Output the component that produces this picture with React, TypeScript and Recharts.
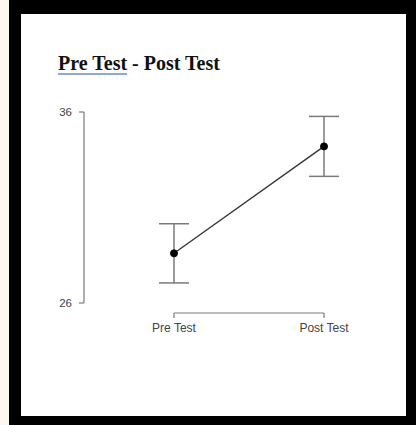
import React from 'react';
import { LineChart, Line, XAxis, YAxis, ErrorBar } from 'recharts';

const categories = ['Pre Test', 'Post Test'];
const means = [28.6, 34.2];
const errors = [1.55, 1.57];
const yTicks = [26, 36];
const title = 'Pre Test - Post Test';

const data = categories.map((c, i) => ({ name: c, mean: means[i], err: errors[i] }));

const AXIS = '#7a7a7a';
const TXT = '#444';

export default function App() {
  return (
    <div style={{ position: 'absolute', left: 0, top: 0, width: 416, height: 425, background: '#fcf7ef', overflow: 'hidden' }}>
      <div style={{ position: 'absolute', left: 9, top: 0, width: 407, height: 425, background: '#000' }} />
      <div style={{ position: 'absolute', left: 21, top: 14, width: 385, height: 402, background: '#fff' }} />
      <div
        style={{
          position: 'absolute',
          left: 58,
          top: 52,
          fontFamily: '"Liberation Serif", "Times New Roman", serif',
          fontWeight: 'bold',
          fontSize: 20,
          color: '#111',
          whiteSpace: 'nowrap',
          lineHeight: '22px',
        }}
      >
        <span style={{ textDecoration: 'underline', textDecorationColor: '#8ea8da', textDecorationThickness: '1.5px', textUnderlineOffset: '3px' }}>
          {title.slice(0, 8)}
        </span>
        {title.slice(8)}
      </div>
      <div style={{ position: 'absolute', left: 0, top: 0 }}>
        <LineChart width={416} height={425} data={data} margin={{ top: 112, right: 92, bottom: 92, left: 114 }}>
          <XAxis
            dataKey="name"
            type="category"
            axisLine={{ stroke: AXIS, strokeWidth: 1.2, transform: 'translate(0, 10)' }}
            tickLine={{ stroke: AXIS, strokeWidth: 1.2, transform: 'translate(0, 10)' }}
            tickSize={5}
            tickMargin={15}
            tick={{ fill: TXT, fontSize: 12, fontFamily: '"Liberation Sans", Arial, sans-serif' }}
            interval={0}
            height={30}
          />
          <YAxis
            type="number"
            domain={[26, 36]}
            ticks={yTicks}
            width={60}
            axisLine={{ stroke: AXIS, strokeWidth: 1.2, transform: 'translate(-90, 0)' }}
            tickLine={{ stroke: AXIS, strokeWidth: 1.2, transform: 'translate(-90, 0)' }}
            tickSize={5}
            tickMargin={97}
            tick={{ fill: TXT, fontSize: 11.5, fontFamily: '"Liberation Sans", Arial, sans-serif' }}
            allowDataOverflow
          />
          <Line
            dataKey="mean"
            stroke="#333"
            strokeWidth={1.3}
            isAnimationActive={false}
            dot={{ r: 3.5, fill: '#000', stroke: '#000', strokeWidth: 1 }}
            activeDot={false}
          >
            <ErrorBar dataKey="err" width={15} stroke={AXIS} strokeWidth={1.5} direction="y" />
          </Line>
        </LineChart>
      </div>
    </div>
  );
}
